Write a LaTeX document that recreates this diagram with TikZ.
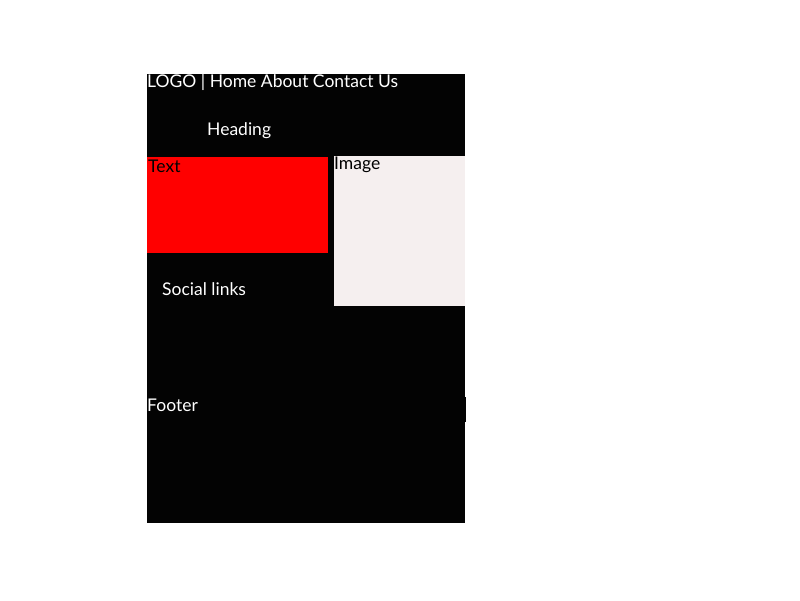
\documentclass[tikz,border=0pt]{standalone}
\usepackage{fontspec}
\setmainfont{Lato}
\usepackage{xcolor}
\usepackage{tikz}
\usetikzlibrary{positioning}
\definecolor{pageblack}{RGB}{3,3,3}
\definecolor{imagebg}{RGB}{245,239,239}

\begin{document}
\begin{tikzpicture}[x=1pt, y=-1pt, every node/.style={inner sep=0pt, anchor=base west, font=\fontsize{17.5}{20}\selectfont}, light/.style={text=white}, dark/.style={text=black}]
\useasboundingbox (0,0) rectangle (800,600);
\fill[pageblack] (147,74) rectangle (465,523);
\fill[pageblack] (147,397) rectangle (466,422);
\fill[red] (147,157) rectangle (328,253);
\fill[imagebg] (334,156) rectangle (465,306);
\node[light] (nav) at (147,87) {LOGO | Home About Contact Us};
\node[light] (heading) at (207,135) {Heading};
\node[dark] (text) at (148,172) {Text};
\node[dark] (image) at (334,169) {Image};
\node[light] (social) at (162,295) {Social links};
\node[light] (footer) at (147,411) {Footer};
\end{tikzpicture}
\end{document}
